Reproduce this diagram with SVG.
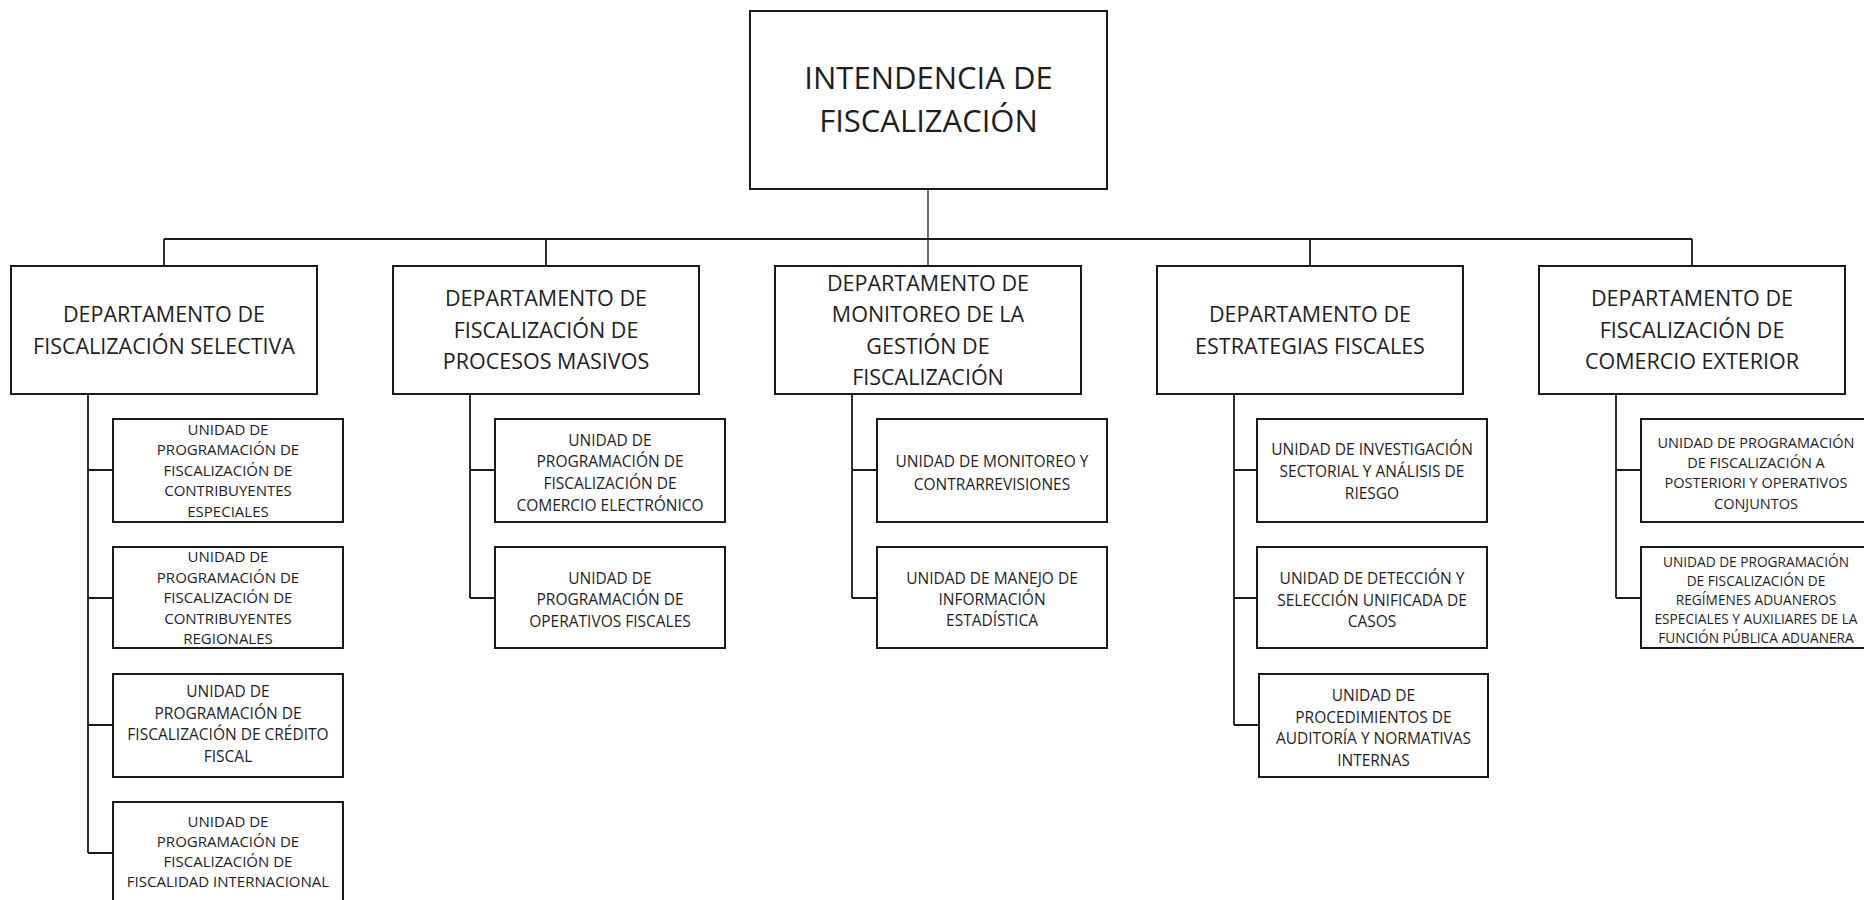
<svg xmlns="http://www.w3.org/2000/svg" width="1864" height="900" viewBox="0 0 1864 900">
<style>
.box{fill:#fff;stroke:#1a1a1a;stroke-width:2}
.t{font-family:"Open Sans","Liberation Sans",sans-serif;fill:#1e1e1e;text-anchor:middle}
.top{font-size:31px}
.dept{font-size:21.5px}
.u{font-size:15.5px}
.u5{font-size:15px}
.conn{stroke:#1a1a1a;stroke-width:1.8;fill:none}
.thin{stroke:#1a1a1a;stroke-width:1.3;fill:none}
</style>
<rect width="1864" height="900" fill="#fff"/>
<g id="connectors">
<path class="thin" d="M928,189V266"/>
<path class="conn" d="M164,239H1692M164,239V266M546,239V266M1310,239V266M1692,239V266"/>
<path class="conn" d="M88,394V853M88,470H113M88,598H113M88,725H113M88,853H113"/>
<path class="conn" d="M470,394V598M470,470H495M470,598H495"/>
<path class="conn" d="M852,394V598M852,470H877M852,598H877"/>
<path class="conn" d="M1234,394V725M1234,470H1257M1234,598H1257M1234,725H1259"/>
<path class="conn" d="M1616,394V598M1616,470H1641M1616,598H1641"/>
</g>
<g id="intendencia">
<rect class="box" x="750" y="11" width="357" height="178"/>
<text class="t top" x="928.5" y="89">INTENDENCIA DE</text>
<text class="t top" x="928.5" y="132">FISCALIZACIÓN</text>
</g>
<g id="dept-selectiva">
<rect class="box" x="11" y="266" width="306" height="128"/>
<text class="t dept" x="164" y="322">DEPARTAMENTO DE</text>
<text class="t dept" x="164" y="353.5">FISCALIZACIÓN SELECTIVA</text>
</g>
<g id="dept-masivos">
<rect class="box" x="393" y="266" width="306" height="128"/>
<text class="t dept" x="546" y="306">DEPARTAMENTO DE</text>
<text class="t dept" x="546" y="337.5">FISCALIZACIÓN DE</text>
<text class="t dept" x="546" y="369">PROCESOS MASIVOS</text>
</g>
<g id="dept-monitoreo">
<rect class="box" x="775" y="266" width="306" height="128"/>
<text class="t dept" x="928" y="290.5">DEPARTAMENTO DE</text>
<text class="t dept" x="928" y="322">MONITOREO DE LA</text>
<text class="t dept" x="928" y="353.5">GESTIÓN DE</text>
<text class="t dept" x="928" y="385">FISCALIZACIÓN</text>
</g>
<g id="dept-estrategias">
<rect class="box" x="1157" y="266" width="306" height="128"/>
<text class="t dept" x="1310" y="322">DEPARTAMENTO DE</text>
<text class="t dept" x="1310" y="353.5">ESTRATEGIAS FISCALES</text>
</g>
<g id="dept-comercio">
<rect class="box" x="1539" y="266" width="306" height="128"/>
<text class="t dept" x="1692" y="306">DEPARTAMENTO DE</text>
<text class="t dept" x="1692" y="337.5">FISCALIZACIÓN DE</text>
<text class="t dept" x="1692" y="369">COMERCIO EXTERIOR</text>
</g>
<g id="u-contrib-especiales">
<rect class="box" x="113" y="419" width="230" height="103"/>
<text class="t u5" x="228" y="434.7">UNIDAD DE</text>
<text class="t u5" x="228" y="455.2">PROGRAMACIÓN DE</text>
<text class="t u5" x="228" y="475.7">FISCALIZACIÓN DE</text>
<text class="t u5" x="228" y="496.2">CONTRIBUYENTES</text>
<text class="t u5" x="228" y="516.7">ESPECIALES</text>
</g>
<g id="u-contrib-regionales">
<rect class="box" x="113" y="547" width="230" height="101"/>
<text class="t u5" x="228" y="562">UNIDAD DE</text>
<text class="t u5" x="228" y="582.5">PROGRAMACIÓN DE</text>
<text class="t u5" x="228" y="603">FISCALIZACIÓN DE</text>
<text class="t u5" x="228" y="623.5">CONTRIBUYENTES</text>
<text class="t u5" x="228" y="644">REGIONALES</text>
</g>
<g id="u-credito">
<rect class="box" x="113" y="674" width="230" height="103"/>
<text class="t u" x="228" y="696.9">UNIDAD DE</text>
<text class="t u" x="228" y="718.6">PROGRAMACIÓN DE</text>
<text class="t u" x="228" y="740.3">FISCALIZACIÓN DE CRÉDITO</text>
<text class="t u" x="228" y="762">FISCAL</text>
</g>
<g id="u-internacional">
<rect class="box" x="113" y="802" width="230" height="103"/>
<text class="t u5" x="228" y="827">UNIDAD DE</text>
<text class="t u5" x="228" y="847">PROGRAMACIÓN DE</text>
<text class="t u5" x="228" y="867">FISCALIZACIÓN DE</text>
<text class="t u5" x="228" y="887">FISCALIDAD INTERNACIONAL</text>
</g>
<g id="u-electronico">
<rect class="box" x="495" y="419" width="230" height="103"/>
<text class="t u" x="610" y="445.6">UNIDAD DE</text>
<text class="t u" x="610" y="467.3">PROGRAMACIÓN DE</text>
<text class="t u" x="610" y="489">FISCALIZACIÓN DE</text>
<text class="t u" x="610" y="510.7">COMERCIO ELECTRÓNICO</text>
</g>
<g id="u-operativos">
<rect class="box" x="495" y="547" width="230" height="101"/>
<text class="t u" x="610" y="583.7">UNIDAD DE</text>
<text class="t u" x="610" y="605.4">PROGRAMACIÓN DE</text>
<text class="t u" x="610" y="627.1">OPERATIVOS FISCALES</text>
</g>
<g id="u-monitoreo">
<rect class="box" x="877" y="419" width="230" height="103"/>
<text class="t u" x="992" y="467">UNIDAD DE MONITOREO Y</text>
<text class="t u" x="992" y="490">CONTRARREVISIONES</text>
</g>
<g id="u-estadistica">
<rect class="box" x="877" y="547" width="230" height="101"/>
<text class="t u" x="992" y="583.5">UNIDAD DE MANEJO DE</text>
<text class="t u" x="992" y="604.5">INFORMACIÓN</text>
<text class="t u" x="992" y="625.5">ESTADÍSTICA</text>
</g>
<g id="u-investigacion">
<rect class="box" x="1257" y="419" width="230" height="103"/>
<text class="t u" x="1372" y="455.4">UNIDAD DE INVESTIGACIÓN</text>
<text class="t u" x="1372" y="477.1">SECTORIAL Y ANÁLISIS DE</text>
<text class="t u" x="1372" y="498.8">RIESGO</text>
</g>
<g id="u-deteccion">
<rect class="box" x="1257" y="547" width="230" height="101"/>
<text class="t u" x="1372" y="583.9">UNIDAD DE DETECCIÓN Y</text>
<text class="t u" x="1372" y="605.6">SELECCIÓN UNIFICADA DE</text>
<text class="t u" x="1372" y="627.3">CASOS</text>
</g>
<g id="u-procedimientos">
<rect class="box" x="1259" y="674" width="229" height="103"/>
<text class="t u" x="1373.5" y="701.2">UNIDAD DE</text>
<text class="t u" x="1373.5" y="722.7">PROCEDIMIENTOS DE</text>
<text class="t u" x="1373.5" y="744.2">AUDITORÍA Y NORMATIVAS</text>
<text class="t u" x="1373.5" y="765.7">INTERNAS</text>
</g>
<g id="u-posteriori">
<rect class="box" x="1641" y="419" width="230" height="103"/>
<text class="t" font-size="14.5" x="1756" y="447.7">UNIDAD DE PROGRAMACIÓN</text>
<text class="t" font-size="14.5" x="1756" y="468">DE FISCALIZACIÓN A</text>
<text class="t" font-size="14.5" x="1756" y="488.4">POSTERIORI Y OPERATIVOS</text>
<text class="t" font-size="14.5" x="1756" y="508.7">CONJUNTOS</text>
</g>
<g id="u-regimenes">
<rect class="box" x="1641" y="547" width="230" height="101"/>
<text class="t" font-size="13.7" fill="#3a3a3a" x="1756" y="566.9">UNIDAD DE PROGRAMACIÓN</text>
<text class="t" font-size="13.7" fill="#3a3a3a" x="1756" y="585.9">DE FISCALIZACIÓN DE</text>
<text class="t" font-size="13.7" fill="#3a3a3a" x="1756" y="604.9">REGÍMENES ADUANEROS</text>
<text class="t" font-size="13.7" fill="#3a3a3a" x="1756" y="623.9">ESPECIALES Y AUXILIARES DE LA</text>
<text class="t" font-size="13.7" fill="#3a3a3a" x="1756" y="642.9">FUNCIÓN PÚBLICA ADUANERA</text>
</g>
</svg>
